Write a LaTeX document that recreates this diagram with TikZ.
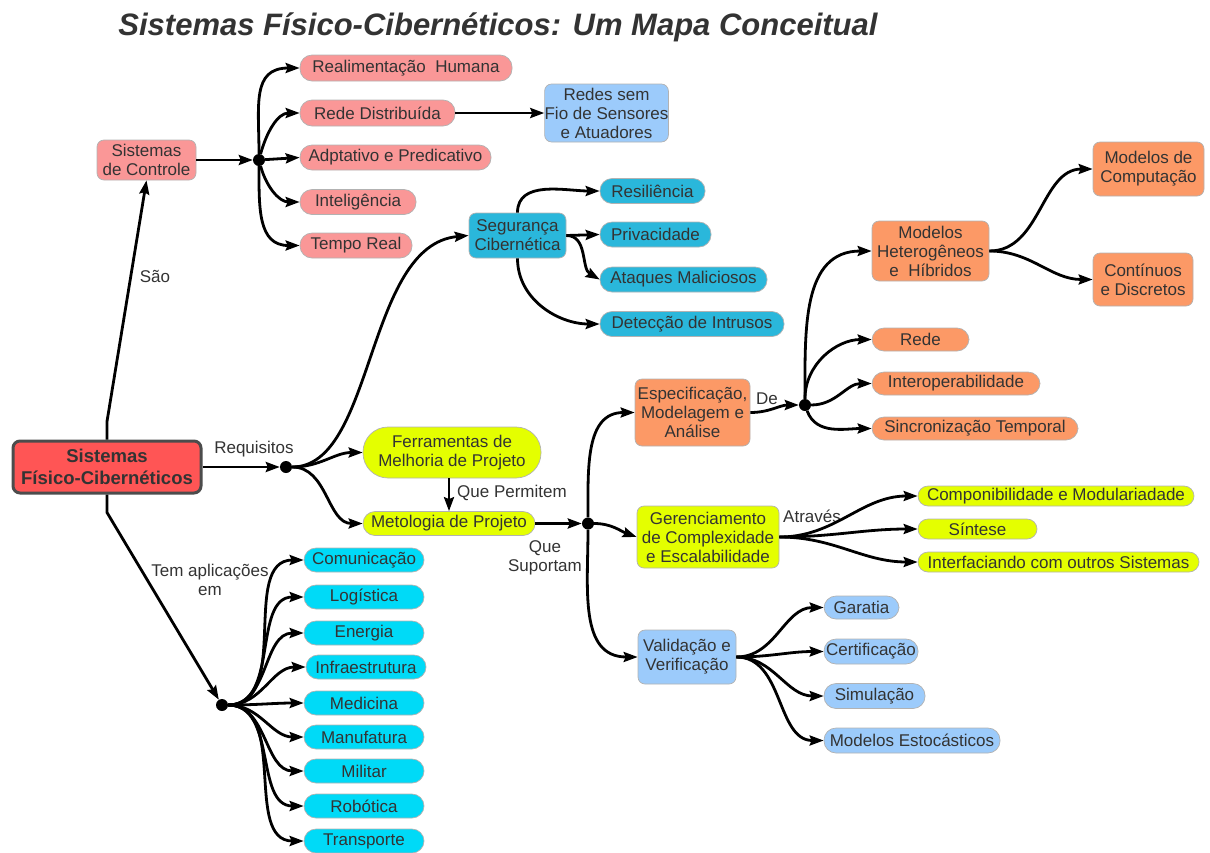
\documentclass[tikz,border=0pt]{standalone}
\usepackage{fontspec}
\setmainfont{Liberation Sans}
\usetikzlibrary{arrows.meta}
\definecolor{txt}{HTML}{333333}
\definecolor{redc}{HTML}{FF5555}
\definecolor{pinkc}{HTML}{FA9797}
\definecolor{lbluec}{HTML}{9CCBFB}
\definecolor{tealc}{HTML}{2AB7DB}
\definecolor{cyanc}{HTML}{00DAF7}
\definecolor{orangec}{HTML}{FC9966}
\definecolor{yellowc}{HTML}{E4FF00}
\begin{document}
\begin{tikzpicture}[x=1pt,y=-1pt,
  font=\fontsize{17}{19}\selectfont, text=txt,
  base/.style={draw=black!30, line width=0.7pt, inner sep=0pt, align=center},
  bx/.style={base, rounded corners=7pt},
  pill/.style={base, rounded corners=12pt, minimum height=25pt},
  hub/.style={circle, fill=black, inner sep=0pt, minimum size=12pt},
  lab/.style={inner sep=0pt, align=center},
  ar/.style={-{Stealth[length=14pt,width=10pt,inset=2pt]}, line width=2.8pt, black}]
\useasboundingbox (0,0) rectangle (1210,852);

\node[anchor=base, font=\fontsize{31}{31}\selectfont\bfseries\itshape] (title) at (498,35) {Sistemas Físico-Cibernéticos: Um Mapa Conceitual};

% central
\node[draw=black!70, line width=3pt, fill=redc, rounded corners=7pt, minimum width=188pt, minimum height=52pt, inner sep=0pt, align=center, font=\fontsize{18.5}{21.5}\selectfont\bfseries] (cps) at (107,467) {Sistemas\\Físico-Cibernéticos};

% controle
\node[bx, fill=pinkc, minimum width=99pt, minimum height=40pt] (sc) at (146.5,160) {Sistemas\\de Controle};
\node[hub] (h1) at (259,160) {};
\node[pill, fill=pinkc, minimum width=212pt, minimum height=26pt] (rh) at (406,68) {Realimentação\ \ Humana};
\node[pill, fill=pinkc, minimum width=155pt, minimum height=26pt] (rd) at (377.5,113) {Rede Distribuída};
\node[pill, fill=pinkc, minimum width=191pt] (ap) at (395.5,157.5) {Adptativo e Predicativo};
\node[pill, fill=pinkc, minimum width=116pt] (in) at (358,202) {Inteligência};
\node[pill, fill=pinkc, minimum width=112pt] (tr) at (356,245.5) {Tempo Real};
\node[bx, fill=lbluec, minimum width=123pt, minimum height=58pt] (rs) at (606.5,113) {Redes sem\\Fio de Sensores\\e Atuadores};

% seguranca
\node[bx, fill=tealc, minimum width=97pt, minimum height=45pt] (sg) at (517.5,235.5) {Segurança\\Cibernética};
\node[pill, fill=tealc, minimum width=105pt] (re) at (652.5,191) {Resiliência};
\node[pill, fill=tealc, minimum width=111pt] (pr) at (655.5,234.5) {Privacidade};
\node[pill, fill=tealc, minimum width=167pt] (am) at (683.5,279.5) {Ataques Maliciosos};
\node[pill, fill=tealc, minimum width=184pt] (di) at (692,324) {Detecção de Intrusos};

% requisitos
\node[hub] (hr) at (286,467) {};
\node[base, fill=yellowc, rounded corners=25pt, minimum width=178pt, minimum height=51pt] (fm) at (452,452.5) {Ferramentas de\\Melhoria de Projeto};
\node[pill, fill=yellowc, minimum width=172pt, minimum height=24pt] (mp) at (449,523.5) {Metologia de Projeto};
\node[hub] (hs) at (588,523.5) {};

% especificacao
\node[bx, fill=orangec, minimum width=115pt, minimum height=67pt] (es) at (692.5,412.5) {Especificação,\\Modelagem e\\Análise};
\node[hub] (hd) at (805,405) {};
\node[bx, fill=orangec, minimum width=117pt, minimum height=60pt] (mh) at (930.5,251) {Modelos\\Heterogêneos\\e\ \ Híbridos};
\node[bx, fill=orangec, minimum width=111pt, minimum height=54pt] (mc) at (1148.5,169) {Modelos de\\Computação};
\node[bx, fill=orangec, minimum width=100pt, minimum height=53pt] (cd) at (1143,279.5) {Contínuos\\e Discretos};
\node[pill, fill=orangec, minimum width=97pt, minimum height=23pt] (rdo) at (920.5,339.5) {Rede};
\node[pill, fill=orangec, minimum width=168pt, minimum height=23pt] (io) at (956,383.5) {Interoperabilidade};
\node[pill, fill=orangec, minimum width=206pt, minimum height=23pt] (st) at (975,428.5) {Sincronização Temporal};

% gerenciamento
\node[bx, fill=yellowc, minimum width=142pt, minimum height=62pt] (gc) at (708,537) {Gerenciamento\\de Complexidade\\e Escalabilidade};
\node[pill, fill=yellowc, minimum width=276pt, minimum height=20pt, rounded corners=10pt] (cm) at (1056,496) {Componibilidade e Modulariadade};
\node[pill, fill=yellowc, minimum width=119pt, minimum height=20pt, rounded corners=10pt] (si) at (977.5,529) {Síntese};
\node[pill, fill=yellowc, minimum width=281pt, minimum height=20pt, rounded corners=10pt] (ic) at (1058.5,562) {Interfaciando com outros Sistemas};

% validacao
\node[bx, fill=lbluec, minimum width=98pt, minimum height=54pt] (vv) at (687,657) {Validação e\\Verificação};
\node[pill, fill=lbluec, minimum width=75pt, minimum height=23pt] (ga) at (861.5,607.5) {Garatia};
\node[pill, fill=lbluec, minimum width=94pt] (ce) at (871,651.5) {Certificação};
\node[pill, fill=lbluec, minimum width=101pt] (sm) at (874.5,696) {Simulação};
\node[pill, fill=lbluec, minimum width=176pt] (me) at (912,740.5) {Modelos Estocásticos};

% aplicacoes
\node[hub] (ha) at (222,705) {};
\node[pill, fill=cyanc, minimum width=120pt, minimum height=24pt] (a1) at (364,560) {Comunicação};
\node[pill, fill=cyanc, minimum width=120pt, minimum height=24pt] (a2) at (364,597) {Logística};
\node[pill, fill=cyanc, minimum width=120pt, minimum height=24pt] (a3) at (364,633) {Energia};
\node[pill, fill=cyanc, minimum width=120pt, minimum height=24pt] (a4) at (366,667) {Infraestrutura};
\node[pill, fill=cyanc, minimum width=120pt, minimum height=24pt] (a5) at (364,703) {Medicina};
\node[pill, fill=cyanc, minimum width=120pt, minimum height=24pt] (a6) at (364,737) {Manufatura};
\node[pill, fill=cyanc, minimum width=120pt, minimum height=24pt] (a7) at (364,771) {Militar};
\node[pill, fill=cyanc, minimum width=120pt, minimum height=24pt] (a8) at (364,806) {Robótica};
\node[pill, fill=cyanc, minimum width=120pt, minimum height=24pt] (a9) at (364,841) {Transporte};

% labels
\node[lab] (l1) at (155,276) {São};
\node[lab] (l2) at (254,449) {Requisitos};
\node[lab] (l3) at (210,580) {Tem aplicações\\em};
\node[lab, anchor=west] (l4) at (457,493) {Que Permitem};
\node[lab] (l5) at (545,558) {Que\\Suportam};
\node[lab] (l6) at (767,399) {De};
\node[lab] (l7) at (812,516) {Através};

% connectors
\draw[ar] (cps.north) -- ++(0,-18) -- (sc.south);
\draw[ar] (cps.south) -- ++(0,18) -- (ha);
\draw[ar] (cps.east) -- (hr);
\draw[ar] (sc.east) -- (h1);
\draw[ar] (h1) to[out=90,in=180,looseness=1.3] (rh.west);
\draw[ar] (h1) to[out=75,in=180] (rd.west);
\draw[ar] (h1) -- (ap.west);
\draw[ar] (h1) to[out=-75,in=180] (in.west);
\draw[ar] (h1) to[out=-90,in=180,looseness=1.2] (tr.west);
\draw[ar] (rd.east) -- (rs.west);

\draw[ar] (hr) .. controls (375,467) and (365,245) .. (sg.west);
\draw[ar] (hr) to[out=0,in=180] (fm.west);
\draw[ar] (hr) to[out=0,in=180] (mp.west);
\draw[ar] (fm.south -| mp.north) -- (mp.north);
\draw[ar] (sg.north) to[out=90,in=180] (re.west);
\draw[ar] (sg.east) -- (pr.west);
\draw[ar] (sg.east) to[out=0,in=150] (am.west);
\draw[ar] (sg.south) to[out=-90,in=180] (di.west);

\draw[ar] (mp.east) -- (hs);
\draw[ar] (hs) to[out=90,in=180,looseness=1.1] (es.west);
\draw[ar] (hs) to[out=0,in=160] (gc.west);
\draw[ar] (hs) to[out=-90,in=180,looseness=1.1] (vv.west);

\draw[ar] (es.east) to[out=0,in=180] (hd);
\draw[ar] (hd) to[out=90,in=180,looseness=1.1] (mh.west);
\draw[ar] (hd) to[out=90,in=180] (rdo.west);
\draw[ar] (hd) to[out=0,in=180] (io.west);
\draw[ar] (hd) to[out=-70,in=180] (st.west);
\draw[ar] (mh.east) to[out=0,in=180] (mc.west);
\draw[ar] (mh.east) to[out=0,in=180] (cd.west);

\draw[ar] (gc.east) to[out=0,in=180] (cm.west);
\draw[ar] (gc.east) to[out=0,in=180] (si.west);
\draw[ar] (gc.east) to[out=0,in=180] (ic.west);

\draw[ar] (vv.east) to[out=0,in=180] (ga.west);
\draw[ar] (vv.east) to[out=0,in=180] (ce.west);
\draw[ar] (vv.east) to[out=0,in=180] (sm.west);
\draw[ar] (vv.east) to[out=0,in=180] (me.west);

\foreach \n in {a1,a2,a3,a4,a5,a6,a7,a8,a9}
  \draw[ar] (ha) to[out=0,in=180] (\n.west);
\end{tikzpicture}
\end{document}
